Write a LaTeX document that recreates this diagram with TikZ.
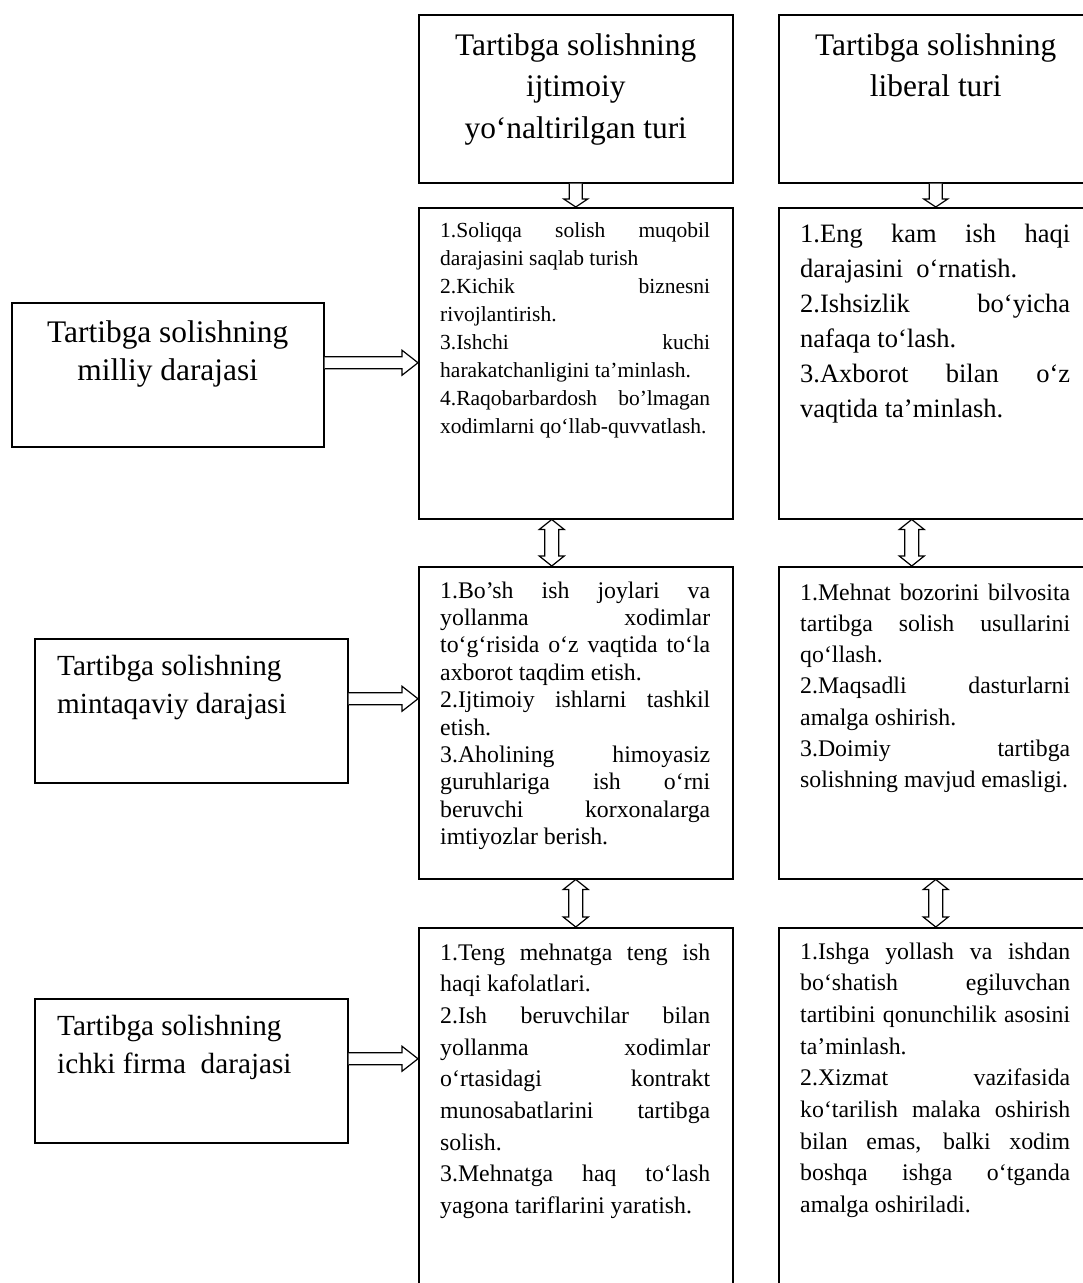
\documentclass[tikz,border=0pt]{standalone}
\usepackage{fontspec}
\setmainfont{Liberation Serif}
\usetikzlibrary{calc}
\hbadness=10000
% one line of a text block: justified, natural or centred
\newcommand\jrow[1]{\hbox to\hsize{#1}}
\newcommand\nrow[1]{\hbox{#1}}
\newcommand\crow[1]{\hbox to\hsize{\hfil#1\hfil}}
% text block: size, line skip, width, rows
\newcommand\tblock[4]{\vtop{\hsize=#3pt\fontsize{#1}{#2}\selectfont#4}}
% hollow block arrows between boxes
\newcommand\downblock[2]{%
  \draw[blk] ($(#1)+(-6.5,0)$) -- ($(#2)+(-6.5,-8)$) -- ($(#2)+(-12,-8)$) -- (#2)
    -- ($(#2)+(12,-8)$) -- ($(#2)+(6.5,-8)$) -- ($(#1)+(6.5,0)$);}
\newcommand\dblblock[2]{%
  \draw[blk] (#1) -- ($(#1)+(12.5,10)$) -- ($(#1)+(7,10)$) -- ($(#2)+(7,-10)$)
    -- ($(#2)+(12.5,-10)$) -- (#2) -- ($(#2)+(-12.5,-10)$) -- ($(#2)+(-7,-10)$)
    -- ($(#1)+(-7,10)$) -- ($(#1)+(-12.5,10)$) -- cycle;}
\newcommand\rightblock[2]{%
  \draw[blk] ($(#1)+(0,-6)$) -- ($(#2)+(-16,-6)$) -- ($(#2)+(-16,-12.5)$) -- (#2)
    -- ($(#2)+(-16,12.5)$) -- ($(#2)+(-16,6)$) -- ($(#1)+(0,6)$);}
\begin{document}
\begin{tikzpicture}[x=1pt,y=-1pt,
  panel/.style={draw, line width=1.5pt, inner sep=0pt, anchor=north west},
  blk/.style={draw, line width=1.2pt, fill=white, line join=miter},
  txt/.style={inner sep=0pt, anchor=base west},
  ctxt/.style={inner sep=0pt, anchor=base}]
\useasboundingbox (0,0) rectangle (1083,1283);
\clip (0,0) rectangle (1083,1283);

% column headers
\node[panel, minimum width=314pt, minimum height=168pt] (topA) at (418,14) {};
\node[panel, minimum width=314pt, minimum height=168pt] (topB) at (778,14) {};
% content boxes
\node[panel, minimum width=314pt, minimum height=311pt] (A1) at (418,207) {};
\node[panel, minimum width=314pt, minimum height=311pt] (B1) at (778,207) {};
\node[panel, minimum width=314pt, minimum height=312pt] (A2) at (418,566) {};
\node[panel, minimum width=314pt, minimum height=312pt] (B2) at (778,566) {};
\node[panel, minimum width=314pt, minimum height=390pt] (A3) at (418,927) {};
\node[panel, minimum width=314pt, minimum height=390pt] (B3) at (778,927) {};
% level boxes
\node[panel, minimum width=312pt, minimum height=144pt] (L1) at (11,302) {};
\node[panel, minimum width=313pt, minimum height=144pt] (L2) at (34,638) {};
\node[panel, minimum width=313pt, minimum height=144pt] (L3) at (34,998) {};

% header texts
\node[ctxt] (tTopA) at ($(topA.north)+(0,41)$) {\tblock{31.4}{41.7}{314}{%
  \crow{Tartibga solishning}\crow{ijtimoiy}\crow{yo‘naltirilgan turi}}};
\node[ctxt] (tTopB) at ($(topB.north)+(0,41)$) {\tblock{31.4}{41.7}{314}{%
  \crow{Tartibga solishning}\crow{liberal turi}}};

% level texts
\node[ctxt] (tL1) at ($(L1.north)+(0,40)$) {\tblock{31.4}{38}{312}{%
  \crow{Tartibga solishning}\crow{milliy darajasi}}};
\node[txt] (tL2) at ($(L2.north west)+(23,37)$) {\tblock{29.2}{38}{290}{%
  \nrow{Tartibga solishning}\nrow{mintaqaviy darajasi}}};
\node[txt] (tL3) at ($(L3.north west)+(23,37)$) {\tblock{29.2}{38}{290}{%
  \nrow{Tartibga solishning}\nrow{ichki firma\ \ darajasi}}};

% content texts
\node[txt] (tA1) at ($(A1.north west)+(22,30)$) {\tblock{21.5}{28}{270}{%
  \jrow{1.Soliqqa solish muqobil}
  \nrow{darajasini saqlab turish}
  \jrow{2.Kichik biznesni}
  \nrow{rivojlantirish.}
  \jrow{3.Ishchi kuchi}
  \nrow{harakatchanligini ta’minlash.}
  \jrow{4.Raqobarbardosh bo’lmagan}
  \nrow{xodimlarni qo‘llab-quvvatlash.}}};
\node[txt] (tB1) at ($(B1.north west)+(22,35)$) {\tblock{26.5}{35}{270}{%
  \jrow{1.Eng kam ish haqi}
  \nrow{darajasini\ \ o‘rnatish.}
  \jrow{2.Ishsizlik bo‘yicha}
  \nrow{nafaqa to‘lash.}
  \jrow{3.Axborot bilan o‘z}
  \nrow{vaqtida ta’minlash.}}};
\node[txt] (tA2) at ($(A2.north west)+(22,32)$) {\tblock{23.8}{27.4}{270}{%
  \jrow{1.Bo’sh ish joylari va}
  \jrow{yollanma xodimlar}
  \jrow{to‘g‘risida o‘z vaqtida to‘la}
  \nrow{axborot taqdim etish.}
  \jrow{2.Ijtimoiy ishlarni tashkil}
  \nrow{etish.}
  \jrow{3.Aholining himoyasiz}
  \jrow{guruhlariga ish o‘rni}
  \jrow{beruvchi korxonalarga}
  \nrow{imtiyozlar berish.}}};
\node[txt] (tB2) at ($(B2.north west)+(22,34)$) {\tblock{23.8}{31.3}{270}{%
  \jrow{1.Mehnat bozorini bilvosita}
  \jrow{tartibga solish usullarini}
  \nrow{qo‘llash.}
  \jrow{2.Maqsadli dasturlarni}
  \nrow{amalga oshirish.}
  \jrow{3.Doimiy tartibga}
  \nrow{solishning mavjud emasligi.}}};
\node[txt] (tA3) at ($(A3.north west)+(22,33)$) {\tblock{23.8}{31.7}{270}{%
  \jrow{1.Teng mehnatga teng ish}
  \nrow{haqi kafolatlari.}
  \jrow{2.Ish beruvchilar bilan}
  \jrow{yollanma xodimlar}
  \jrow{o‘rtasidagi kontrakt}
  \jrow{munosabatlarini tartibga}
  \nrow{solish.}
  \jrow{3.Mehnatga haq to‘lash}
  \nrow{yagona tariflarini yaratish.}}};
\node[txt] (tB3) at ($(B3.north west)+(22,32)$) {\tblock{23.8}{31.7}{270}{%
  \jrow{1.Ishga yollash va ishdan}
  \jrow{bo‘shatish egiluvchan}
  \jrow{tartibini qonunchilik asosini}
  \nrow{ta’minlash.}
  \jrow{2.Xizmat vazifasida}
  \jrow{ko‘tarilish malaka oshirish}
  \jrow{bilan emas, balki xodim}
  \jrow{boshqa ishga o‘tganda}
  \nrow{amalga oshiriladi.}}};

% header to first row
\downblock{topA.south}{A1.north}
\downblock{topB.south}{B1.north}

% links between rows
\coordinate (v1t) at ($(A1.south)+(-24,0)$);
\coordinate (v1b) at ($(A2.north)+(-24,0)$);
\coordinate (v2t) at ($(B1.south)+(-24,0)$);
\coordinate (v2b) at ($(B2.north)+(-24,0)$);
\dblblock{v1t}{v1b}
\dblblock{v2t}{v2b}
\dblblock{A2.south}{A3.north}
\dblblock{B2.south}{B3.north}

% level boxes to rows
\coordinate (h1s) at ($(L1.east)+(0,-12)$);
\coordinate (h1e) at (h1s -| A1.west);
\coordinate (h2s) at ($(L2.east)+(0,-12)$);
\coordinate (h2e) at (h2s -| A2.west);
\coordinate (h3s) at ($(L3.east)+(0,-12)$);
\coordinate (h3e) at (h3s -| A3.west);
\rightblock{h1s}{h1e}
\rightblock{h2s}{h2e}
\rightblock{h3s}{h3e}
\end{tikzpicture}
\end{document}
